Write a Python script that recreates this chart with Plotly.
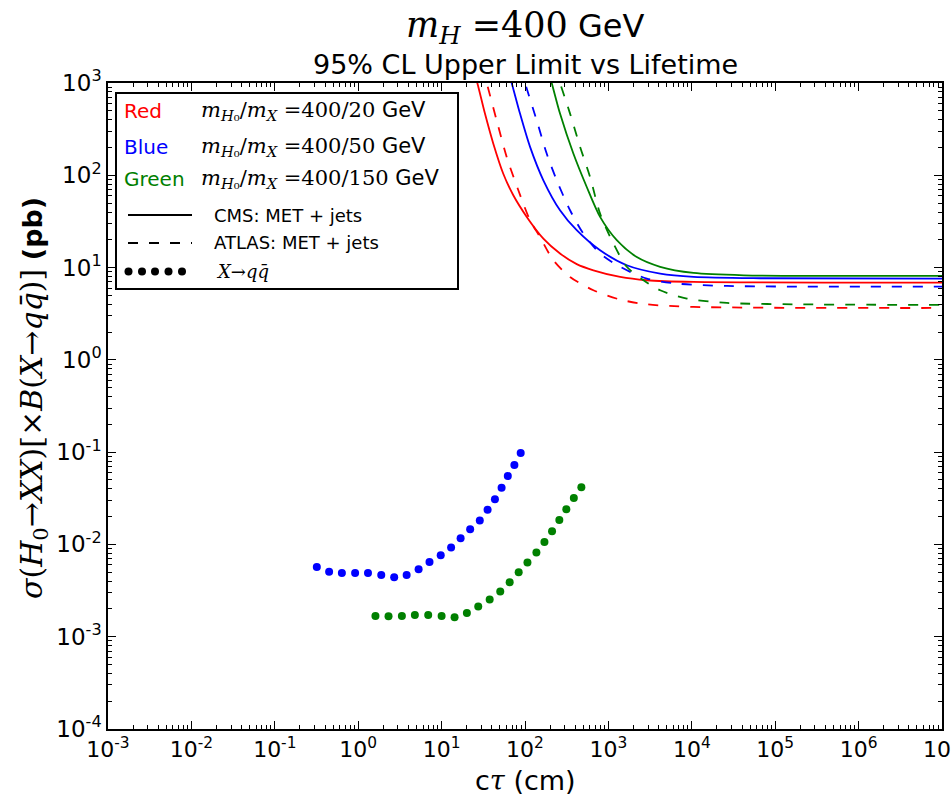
import plotly.graph_objects as go

# ---- limit curves (c*tau in cm, sigma x BR in pb) ----
red_cms_x = [23.4, 26.8, 33.1, 41.7, 54.9, 72.4, 105, 166, 263, 417, 661, 1382, 2888, 10490, 1e7]
red_cms_y = [1500, 1000, 466, 220, 104, 60.7, 35.4, 20.6, 14.2, 10.9, 9.35, 7.92, 7.29, 6.99, 6.87]

red_atlas_x = [30.3, 34.7, 45.7, 60.3, 83.2, 115, 151, 219, 347, 661, 1382, 2888, 10490, 1e7]
red_atlas_y = [1500, 1000, 394, 158, 68.8, 32.5, 21.5, 12.0, 7.92, 5.68, 4.50, 4.00, 3.75, 3.65]

blue_cms_x = [60.5, 69.2, 87.1, 115, 166, 263, 417, 795, 1662, 4175, 10490, 66240, 1e7]
blue_cms_y = [1500, 1000, 466, 203, 88.3, 41.8, 25.4, 15.4, 10.6, 8.60, 7.92, 7.66, 7.59]

blue_atlas_x = [87.4, 100, 138, 182, 240, 347, 501, 795, 1382, 2888, 6617, 26370, 1e7]
blue_atlas_y = [1500, 1000, 394, 172, 88.3, 41.8, 23.3, 14.2, 10.2, 7.59, 6.71, 6.32, 6.22]

green_cms_x = [183, 209, 263, 380, 550, 795, 1260, 2190, 4175, 10490, 41780, 1e7]
green_cms_y = [1500, 1000, 466, 172, 74.7, 35.4, 19.8, 13.0, 10.2, 8.75, 8.25, 8.12]

green_atlas_x = [230, 263, 347, 458, 603, 795, 1149, 1662, 2634, 4175, 8727, 26370, 166500, 1e7]
green_atlas_y = [1500, 1000, 466, 203, 95.9, 38.4, 18.2, 10.2, 7.29, 5.68, 4.61, 4.14, 4.00, 3.94]

# ---- X -> q qbar limits ----
blue_qq_x = [0.319, 0.448, 0.637, 0.918, 1.31, 1.89, 2.70, 3.81, 5.30, 7.16, 9.76,
             13.0, 16.9, 22.0, 28.7, 35.6, 43.6, 52.4, 62.2, 74.6, 88.8]
blue_qq_y = [0.00570, 0.00505, 0.00489, 0.00489, 0.00489, 0.00465, 0.00442, 0.00465,
             0.00539, 0.00646, 0.00762, 0.00928, 0.0117, 0.0146, 0.0182, 0.0237,
             0.0309, 0.0411, 0.0550, 0.0727, 0.0977]

green_qq_x = [1.61, 2.31, 3.34, 4.78, 6.91, 10.0, 14.3, 20.1, 27.5, 37.7, 50.5,
              65.5, 84.0, 107, 137, 171, 211, 258, 313, 385, 474]
green_qq_y = [0.00168, 0.00167, 0.00168, 0.00172, 0.00172, 0.00168, 0.00163, 0.00181,
              0.00212, 0.00253, 0.00309, 0.00389, 0.00500, 0.00637, 0.00817, 0.0106,
              0.0139, 0.0184, 0.0240, 0.0319, 0.0417]

# ---- axis ticks ----
x_exps = list(range(-3, 8))
y_exps = list(range(-4, 4))
x_ticktext = ["10<sup>%d</sup>" % e for e in x_exps]
y_ticktext = ["10<sup>%d</sup>" % e for e in y_exps]

RED, BLUE, GREEN = "#ff0000", "#0000ff", "#008000"
DASH = "10px,11px"
SERIF = "'DejaVu Serif'"
SANS = "DejaVu Sans"


def span(txt, family, size):
    return "<span style=\"font-family:%s;font-size:%dpx\">%s</span>" % (family, size, txt)


fig = go.Figure()

curves = [
    (red_cms_x, red_cms_y, RED, "solid"),
    (blue_cms_x, blue_cms_y, BLUE, "solid"),
    (green_cms_x, green_cms_y, GREEN, "solid"),
    (red_atlas_x, red_atlas_y, RED, DASH),
    (blue_atlas_x, blue_atlas_y, BLUE, DASH),
    (green_atlas_x, green_atlas_y, GREEN, DASH),
]
for xs, ys, col, dash in curves:
    fig.add_trace(go.Scatter(
        x=xs, y=ys, mode="lines",
        line=dict(color=col, width=1.8, dash=dash, shape="spline", smoothing=0.8),
        showlegend=False, hoverinfo="skip"))

for xs, ys, col in [(blue_qq_x, blue_qq_y, BLUE), (green_qq_x, green_qq_y, GREEN)]:
    fig.add_trace(go.Scatter(
        x=xs, y=ys, mode="markers",
        marker=dict(color=col, size=8, line=dict(width=0)),
        showlegend=False, hoverinfo="skip"))


def minor_vals(lo, hi):
    vals = []
    for e in range(lo, hi):
        for k in range(2, 10):
            vals.append(k * 10.0 ** e)
    return vals


axis_common = dict(
    type="log", showgrid=False, zeroline=False, automargin=False,
    showline=True, linecolor="black", linewidth=1.5, mirror="allticks",
    ticks="inside", ticklen=8, tickwidth=1, tickcolor="black",
    ticklabeloverflow="allow",
)

fig.update_xaxes(
    **axis_common, range=[-3, 7],
    tickfont=dict(family=SANS, size=22, color="black"),
    tickvals=[10.0 ** e for e in x_exps], ticktext=x_ticktext,
    minor=dict(ticks="inside", ticklen=4, tickwidth=1, tickcolor="black",
               tickvals=minor_vals(-3, 7), showgrid=False),
)
fig.update_yaxes(
    **axis_common, range=[-4, 3],
    tickfont=dict(family=SANS, size=23, color="black"),
    tickvals=[10.0 ** e for e in y_exps], ticktext=y_ticktext,
    minor=dict(ticks="inside", ticklen=4, tickwidth=1, tickcolor="black",
               tickvals=minor_vals(-4, 3), showgrid=False),
)


def px_x(px):
    return (px - 108) / 834.0


def px_y(py):
    return (729 - py) / 646.0


annotations = []
shapes = []

# titles
annotations.append(dict(
    x=0.5, y=px_y(27), xref="paper", yref="paper", xanchor="center", yanchor="middle",
    showarrow=False, font=dict(family=SANS, size=32, color="black"),
    text=(span("<i>m</i>", SERIF, 35) + span("<sub><i>H</i></sub>", SERIF, 35)
          + span(" =400", SERIF, 35) + " GeV")))
annotations.append(dict(
    x=0.5, y=px_y(65), xref="paper", yref="paper", xanchor="center", yanchor="middle",
    showarrow=False, font=dict(family=SANS, size=27, color="black"),
    text="95% CL Upper Limit vs Lifetime"))

# axis titles
annotations.append(dict(
    x=0.5, y=px_y(780), xref="paper", yref="paper", xanchor="center", yanchor="middle",
    showarrow=False, font=dict(family=SANS, size=27, color="black"),
    text="c" + span("<i>τ</i>", SERIF, 27) + " (cm)"))
annotations.append(dict(
    x=px_x(33), y=px_y(398), xref="paper", yref="paper", xanchor="center", yanchor="middle",
    showarrow=False, textangle=-90, font=dict(family=SANS, size=27, color="black"),
    text=(span("<i>σ</i>(<i>H</i>", SERIF, 30) + span("<sub>0</sub>", SERIF, 30)
          + span("→<i>XX</i>)[×<i>B</i>(<i>X</i>→<i>q</i><i>q̄</i>)]", SERIF, 30)
          + " <b>(pb)</b>")))

# legend box
shapes.append(dict(type="rect", xref="paper", yref="paper",
                   x0=px_x(116), x1=px_x(458), y0=px_y(289), y1=px_y(93),
                   line=dict(color="black", width=2), fillcolor="white", layer="above"))

legend_rows = [("Red", RED, "20", 111.5), ("Blue", BLUE, "50", 146.5), ("Green", GREEN, "150", 178.5)]
for word, col, mx, py in legend_rows:
    annotations.append(dict(
        x=px_x(122), y=px_y(py), xref="paper", yref="paper", xanchor="left", yanchor="middle",
        showarrow=False, font=dict(family=SANS, size=20, color=col), text=word))
    annotations.append(dict(
        x=px_x(199), y=px_y(py), xref="paper", yref="paper", xanchor="left", yanchor="middle",
        showarrow=False, font=dict(family=SANS, size=21, color="black"),
        text=(span("<i>m</i>", SERIF, 21) + span("<sub><i>H</i>₀</sub>", SERIF, 21)
              + span("/<i>m</i>", SERIF, 21) + span("<sub><i>X</i></sub>", SERIF, 21)
              + span(" =400/%s" % mx, SERIF, 21) + " GeV")))

# line-style samples
shapes.append(dict(type="line", xref="paper", yref="paper", layer="above",
                   x0=px_x(128), x1=px_x(192), y0=px_y(215), y1=px_y(215),
                   line=dict(color="black", width=1.8)))
shapes.append(dict(type="line", xref="paper", yref="paper", layer="above",
                   x0=px_x(128), x1=px_x(192), y0=px_y(243), y1=px_y(243),
                   line=dict(color="black", width=1.8, dash=DASH)))
for cx in [128.5, 142, 155, 168.5, 182]:
    shapes.append(dict(type="circle", xref="paper", yref="paper", layer="above",
                       xsizemode="pixel", ysizemode="pixel",
                       xanchor=px_x(cx), yanchor=px_y(271.5),
                       x0=-4, x1=4, y0=-4, y1=4,
                       fillcolor="black", line=dict(width=0)))

for txt, py in [("CMS: MET + jets", 215), ("ATLAS: MET + jets", 243)]:
    annotations.append(dict(
        x=px_x(212), y=px_y(py), xref="paper", yref="paper", xanchor="left", yanchor="middle",
        showarrow=False, font=dict(family=SANS, size=18, color="black"), text=txt))
annotations.append(dict(
    x=px_x(214), y=px_y(271.5), xref="paper", yref="paper", xanchor="left", yanchor="middle",
    showarrow=False, font=dict(family="DejaVu Serif", size=18, color="black"),
    text="<i>X</i>→<i>q</i><i>q̄</i>"))

fig.update_layout(
    width=951, height=802, autosize=False,
    margin=dict(l=108, r=9, t=83, b=73, pad=0),
    paper_bgcolor="white", plot_bgcolor="white",
    annotations=annotations, shapes=shapes,
    font=dict(family=SANS, color="black"),
)

fig.write_html("out.html")
